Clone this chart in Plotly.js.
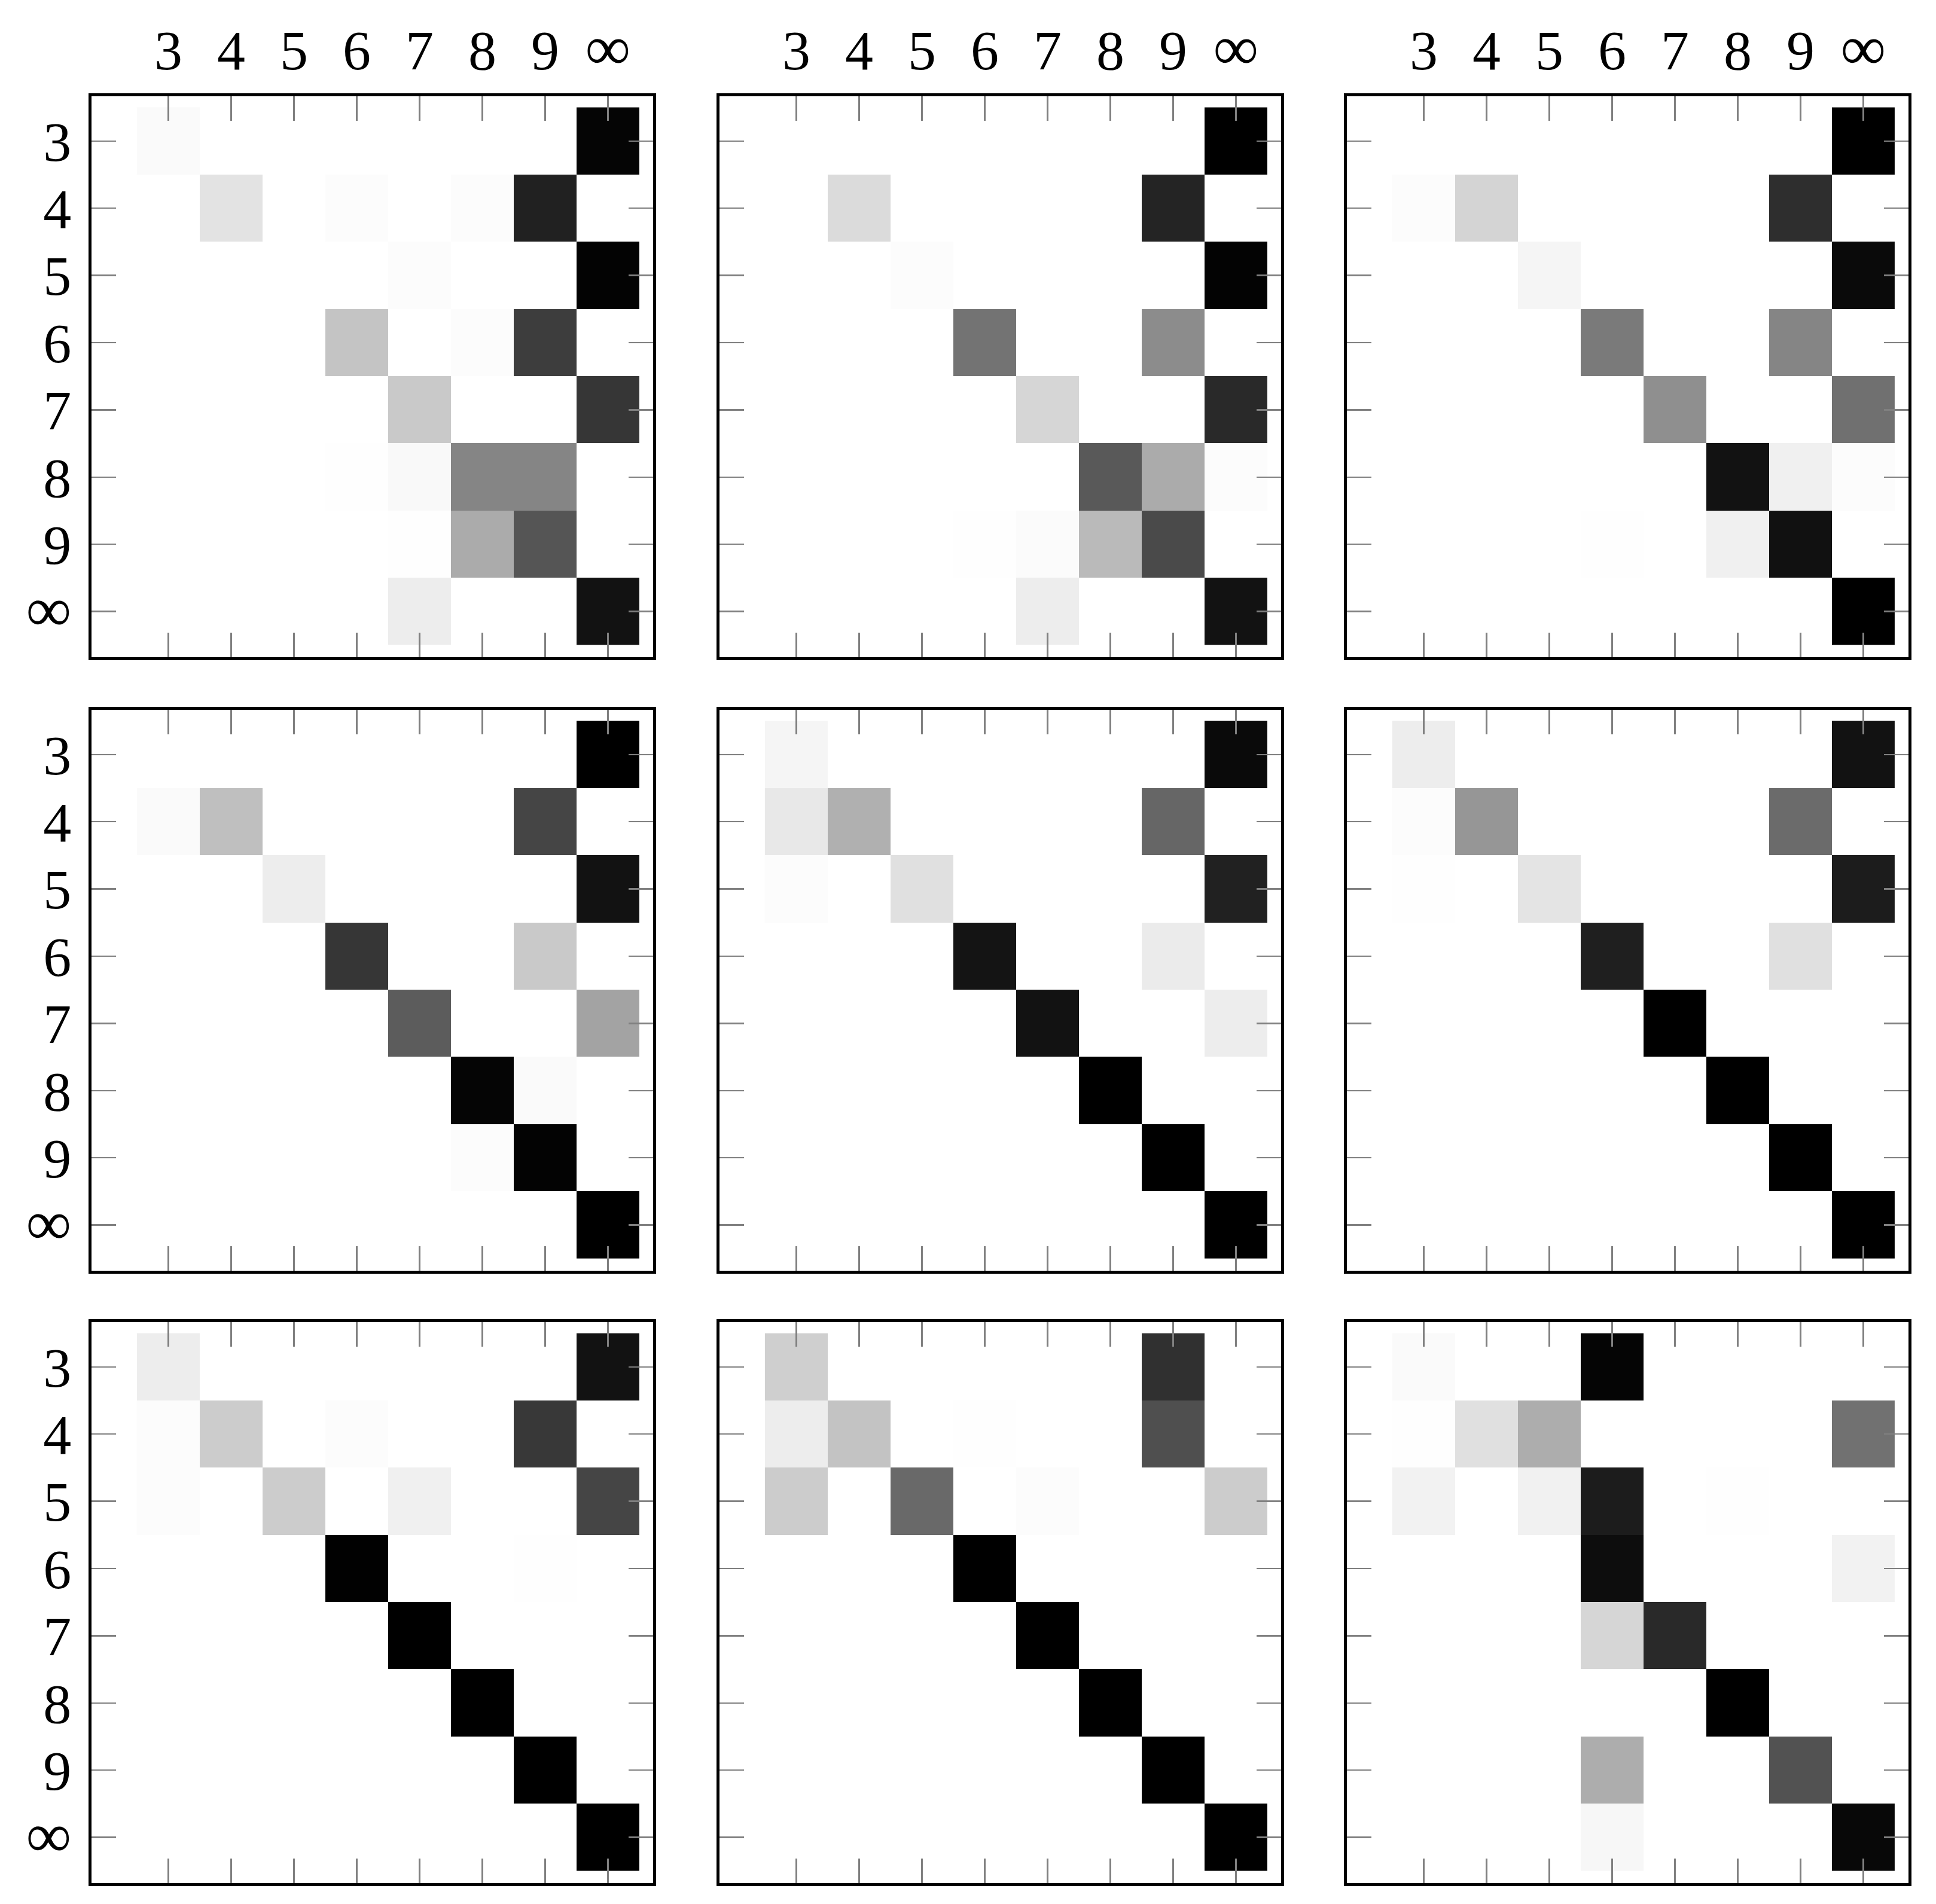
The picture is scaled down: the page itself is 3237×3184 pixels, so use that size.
<!DOCTYPE html>
<html>
<head>
<meta charset="utf-8">
<script src="https://cdn.plot.ly/plotly-3.0.1.min.js"></script>
<style>html,body{margin:0;padding:0;background:#fff;}#chart{width:3237px;height:3184px;}</style>
</head>
<body>
<div id="chart"></div>
<script>
// Class labels (rows = true, columns = predicted)
const categories = ['3', '4', '5', '6', '7', '8', '9', '∞'];

// Row-normalised confusion matrices (rows 3..∞, cols 3..∞)
const panel1 = [
  [0.02, 0, 0, 0, 0, 0, 0, 0.98],
  [0, 0.11, 0, 0.01, 0, 0.01, 0.87, 0],
  [0, 0, 0, 0, 0.01, 0, 0, 0.99],
  [0, 0, 0, 0.23, 0, 0.01, 0.76, 0],
  [0, 0, 0, 0, 0.21, 0, 0, 0.79],
  [0, 0, 0, 0.005, 0.025, 0.48, 0.48, 0],
  [0, 0, 0, 0, 0.005, 0.33, 0.665, 0],
  [0, 0, 0, 0, 0.07, 0, 0, 0.93]
];
const panel2 = [
  [0, 0, 0, 0, 0, 0, 0, 1.0],
  [0, 0.14, 0, 0, 0, 0, 0.86, 0],
  [0, 0, 0.01, 0, 0, 0, 0, 0.99],
  [0, 0, 0, 0.55, 0, 0, 0.45, 0],
  [0, 0, 0, 0, 0.16, 0, 0, 0.84],
  [0, 0, 0, 0, 0, 0.65, 0.33, 0.01],
  [0, 0, 0, 0.005, 0.015, 0.27, 0.71, 0],
  [0, 0, 0, 0, 0.07, 0, 0, 0.93]
];
const panel3 = [
  [0, 0, 0, 0, 0, 0, 0, 1.0],
  [0.01, 0.17, 0, 0, 0, 0, 0.82, 0],
  [0, 0, 0.04, 0, 0, 0, 0, 0.96],
  [0, 0, 0, 0.52, 0, 0, 0.48, 0],
  [0, 0, 0, 0, 0.44, 0, 0, 0.56],
  [0, 0, 0, 0, 0, 0.93, 0.06, 0.01],
  [0, 0, 0, 0.005, 0, 0.06, 0.935, 0],
  [0, 0, 0, 0, 0, 0, 0, 1.0]
];
const panel4 = [
  [0, 0, 0, 0, 0, 0, 0, 1.0],
  [0.02, 0.25, 0, 0, 0, 0, 0.73, 0],
  [0, 0, 0.07, 0, 0, 0, 0, 0.93],
  [0, 0, 0, 0.79, 0, 0, 0.21, 0],
  [0, 0, 0, 0, 0.64, 0, 0, 0.36],
  [0, 0, 0, 0, 0, 0.98, 0.02, 0],
  [0, 0, 0, 0, 0, 0.01, 0.99, 0],
  [0, 0, 0, 0, 0, 0, 0, 1.0]
];
const panel5 = [
  [0.04, 0, 0, 0, 0, 0, 0, 0.96],
  [0.09, 0.31, 0, 0, 0, 0, 0.6, 0],
  [0.01, 0, 0.12, 0, 0, 0, 0, 0.87],
  [0, 0, 0, 0.92, 0, 0, 0.08, 0],
  [0, 0, 0, 0, 0.93, 0, 0, 0.07],
  [0, 0, 0, 0, 0, 1.0, 0, 0],
  [0, 0, 0, 0, 0, 0, 1.0, 0],
  [0, 0, 0, 0, 0, 0, 0, 1.0]
];
const panel6 = [
  [0.07, 0, 0, 0, 0, 0, 0, 0.93],
  [0.01, 0.41, 0, 0, 0, 0, 0.58, 0],
  [0.005, 0, 0.105, 0, 0, 0, 0, 0.89],
  [0, 0, 0, 0.88, 0, 0, 0.12, 0],
  [0, 0, 0, 0, 1.0, 0, 0, 0],
  [0, 0, 0, 0, 0, 1.0, 0, 0],
  [0, 0, 0, 0, 0, 0, 1.0, 0],
  [0, 0, 0, 0, 0, 0, 0, 1.0]
];
const panel7 = [
  [0.07, 0, 0, 0, 0, 0, 0, 0.93],
  [0.01, 0.2, 0, 0.01, 0, 0, 0.78, 0],
  [0.01, 0, 0.2, 0, 0.06, 0, 0, 0.73],
  [0, 0, 0, 0.995, 0, 0, 0.005, 0],
  [0, 0, 0, 0, 1.0, 0, 0, 0],
  [0, 0, 0, 0, 0, 1.0, 0, 0],
  [0, 0, 0, 0, 0, 0, 1.0, 0],
  [0, 0, 0, 0, 0, 0, 0, 1.0]
];
const panel8 = [
  [0.19, 0, 0, 0, 0, 0, 0.81, 0],
  [0.07, 0.235, 0, 0.005, 0, 0, 0.69, 0],
  [0.2, 0, 0.59, 0, 0.01, 0, 0, 0.2],
  [0, 0, 0, 1.0, 0, 0, 0, 0],
  [0, 0, 0, 0, 1.0, 0, 0, 0],
  [0, 0, 0, 0, 0, 1.0, 0, 0],
  [0, 0, 0, 0, 0, 0, 1.0, 0],
  [0, 0, 0, 0, 0, 0, 0, 1.0]
];
const panel9 = [
  [0.02, 0, 0, 0.98, 0, 0, 0, 0],
  [0.005, 0.12, 0.32, 0, 0, 0, 0, 0.555],
  [0.05, 0, 0.055, 0.89, 0, 0.005, 0, 0],
  [0, 0, 0, 0.95, 0, 0, 0, 0.05],
  [0, 0, 0, 0.16, 0.84, 0, 0, 0],
  [0, 0, 0, 0, 0, 1.0, 0, 0],
  [0, 0, 0, 0.32, 0, 0, 0.68, 0],
  [0, 0, 0, 0.03, 0, 0, 0, 0.97]
];

const panels = [panel1, panel2, panel3, panel4, panel5, panel6, panel7, panel8, panel9];

// ---- layout geometry (pixels) ----
const W = 3237, H = 3184;
const colLeft = [153, 1203, 2252];
const rowTop = [161, 1187, 2211];
const pw = 939, ph = 938;

const idx = categories.map((_, i) => i);
// the infinity glyph is drawn a little larger, as in the LaTeX original
const tickText = categories.map(c => c === '∞' ? '<span style="font-size:106px">∞</span>' : c);

const traces = [];
const layout = {
  width: W, height: H,
  margin: {l: 0, r: 0, t: 0, b: 0},
  paper_bgcolor: '#ffffff',
  plot_bgcolor: '#ffffff',
  showlegend: false,
  font: {family: '"Liberation Serif", "Times New Roman", serif', color: '#000000'}
};

panels.forEach((z, p) => {
  const r = Math.floor(p / 3), c = p % 3;
  const n = p === 0 ? '' : String(p + 1);
  traces.push({
    type: 'heatmap',
    z: z,
    x: idx,
    y: idx,
    xaxis: 'x' + n,
    yaxis: 'y' + n,
    zmin: 0, zmax: 1,
    colorscale: [[0, '#ffffff'], [1, '#000000']],
    showscale: false,
    hoverinfo: 'skip'
  });
  const common = {
    showline: true, linewidth: 5, linecolor: '#000000', mirror: 'ticks',
    ticks: 'inside', ticklen: 41, tickwidth: 2.5, tickcolor: '#808080',
    showgrid: false, zeroline: false,
    tickmode: 'array', tickvals: idx, ticktext: tickText,
    tickfont: {family: '"Liberation Serif", "Times New Roman", serif', size: 94, color: '#000000'},
    fixedrange: true
  };
  layout['xaxis' + n] = Object.assign({}, common, {
    domain: [colLeft[c] / W, (colLeft[c] + pw) / W],
    range: [-1.223, 7.72],
    side: 'top',
    anchor: 'y' + n,
    showticklabels: r === 0,
    ticklabelstandoff: 2
  });
  layout['yaxis' + n] = Object.assign({}, common, {
    domain: [1 - (rowTop[r] + ph) / H, 1 - rowTop[r] / H],
    range: [7.68, -0.665],
    anchor: 'x' + n,
    showticklabels: c === 0,
    ticklabelstandoff: 10
  });
});

Plotly.newPlot('chart', traces, layout, {staticPlot: true, displayModeBar: false});
</script>
</body>
</html>
